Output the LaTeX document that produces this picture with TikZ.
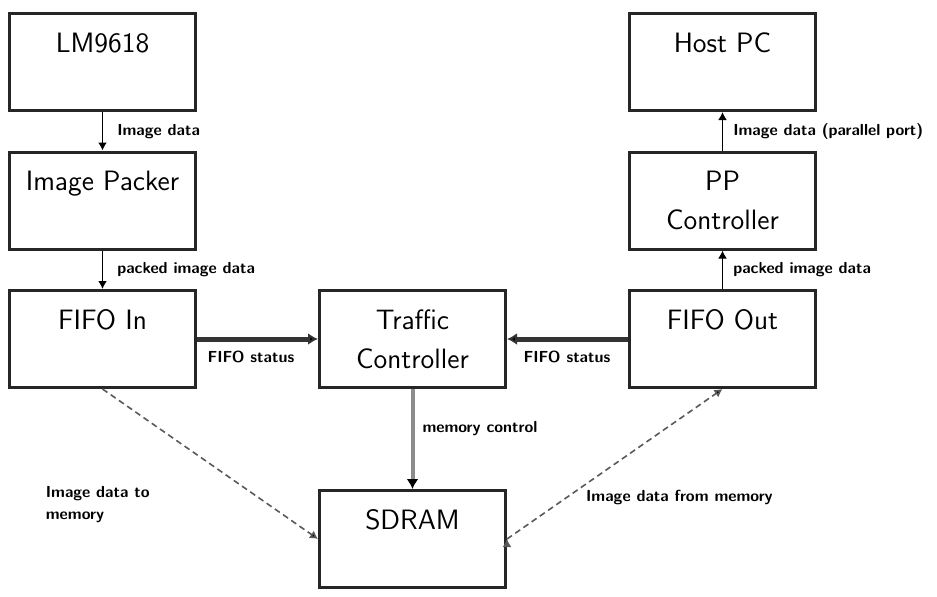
\documentclass[tikz,border=0pt]{standalone}
\usepackage{tikz}
\usetikzlibrary{positioning,arrows.meta}

\tikzset{
  block/.style={draw=black!85, line width=1.5pt, minimum width=93pt, minimum height=48.5pt,
    align=center, font=\fontsize{14}{19.5}\selectfont\sffamily},
  lbl/.style={font=\fontsize{8}{11}\selectfont\sffamily\bfseries, inner sep=1pt},
  link/.style={line width=0.8pt, -{Latex[length=4pt,width=4.5pt]}},
  status/.style={line width=2.5pt, draw=black!80, -{Latex[length=5pt,width=6pt]}},
  ctrl/.style={line width=2pt, draw=black!45, -{Latex[length=5pt,width=6pt,color=black]}},
  memlink/.style={line width=0.8pt, draw=black!65, densely dashed, -{Latex[length=4pt,width=4.5pt]}}
}

\begin{document}
\begin{tikzpicture}[x=1pt,y=1pt,auto]
\useasboundingbox (-51.25,31) rectangle (417.25,-267);

\node[block] (lm)       at (0,0)                   {LM9618\\~};
\node[block] (packer)   [below=19.25pt of lm]      {Image Packer\\~};
\node[block] (fifo_in)  [below=19.25pt of packer]  {FIFO In\\~};
\node[block] (traffic)  [right=60.5pt of fifo_in]  {Traffic\\Controller};
\node[block] (fifo_out) [right=60.5pt of traffic]  {FIFO Out\\~};
\node[block] (pp)       [above=19.25pt of fifo_out] {PP\\Controller};
\node[block] (host)     [above=19.25pt of pp]      {Host PC\\~};
\node[block] (sdram)    [below=50pt of traffic]    {SDRAM\\~};

\path[link] (lm)       edge node[lbl, right=6pt] {Image data}                 (packer)
            (packer)   edge node[lbl, right=6pt] {packed image data}          (fifo_in)
            (fifo_out) edge node[lbl, right=4pt] {packed image data}          (pp)
            (pp)       edge node[lbl, right=4pt] {Image data (parallel port)} (host);

\path[status] (fifo_in)  edge node[lbl, pos=0.05, below right=4pt and 0pt] {FIFO status} (traffic)
              (fifo_out) edge node[lbl, pos=0.9, below right=4pt and 0pt]  {FIFO status} (traffic);

\path[ctrl] (traffic) edge node[lbl, pos=0.4, right=3pt] {memory control} (sdram);

\path[memlink] (fifo_in.south) edge node[lbl, pos=0.77, left=58pt, align=left] {Image data to\\memory} (sdram.west)
               (sdram.east)    edge node[lbl, pos=0.28, right=8pt] {Image data from memory} (fifo_out.south);
\end{tikzpicture}
\end{document}
